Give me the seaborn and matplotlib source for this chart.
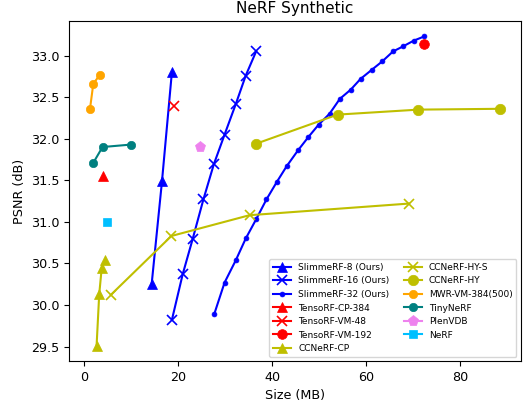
import matplotlib
matplotlib.use("Agg")
import matplotlib.pyplot as plt
import seaborn as sns

# SlimmeRF results (size in MB, PSNR in dB)
slim8_size = [14.4, 16.6, 18.7]
slim8_psnr = [30.25, 31.49, 32.80]

slim16_size = [18.7, 21.0, 23.1, 25.4, 27.6, 29.9, 32.3, 34.4, 36.6]
slim16_psnr = [29.82, 30.37, 30.79, 31.27, 31.69, 32.05, 32.42, 32.76, 33.05]

slim32_size = [27.7, 29.9, 32.3, 34.4, 36.6, 38.8, 41.0, 43.1, 45.5, 47.7, 49.9,
               52.2, 54.4, 56.7, 58.8, 61.2, 63.4, 65.7, 67.8, 70.1, 72.3]
slim32_psnr = [29.89, 30.27, 30.54, 30.80, 31.03, 31.27, 31.48, 31.67, 31.86, 32.02, 32.17,
               32.30, 32.48, 32.59, 32.72, 32.83, 32.93, 33.05, 33.11, 33.18, 33.23]

# baselines
tenso_cp_size, tenso_cp_psnr = [3.96], [31.55]
tenso_vm48_size, tenso_vm48_psnr = [19.05], [32.39]
tenso_vm192_size, tenso_vm192_psnr = [72.3], [33.14]

ccnerf_cp_size = [2.7, 3.26, 3.8, 4.5]
ccnerf_cp_psnr = [29.51, 30.13, 30.45, 30.54]

ccnerf_hys_size = [5.7, 18.6, 35.2, 69.1]
ccnerf_hys_psnr = [30.12, 30.83, 31.08, 31.22]

ccnerf_hy_size = [36.6, 53.9, 71.1, 88.5]
ccnerf_hy_psnr = [31.94, 32.29, 32.35, 32.36]

mwr_size = [1.3, 2.0, 3.4]
mwr_psnr = [32.36, 32.66, 32.77]

tiny_size = [2.0, 3.96, 10.1]
tiny_psnr = [31.71, 31.90, 31.93]

plenvdb_size, plenvdb_psnr = [24.7], [31.90]
nerf_size, nerf_psnr = [5.0], [31.0]

series = [
    (slim8_size, slim8_psnr, "SlimmeRF-8 (Ours)", "blue", "^", 6.5),
    (slim16_size, slim16_psnr, "SlimmeRF-16 (Ours)", "blue", "x", 6.5),
    (slim32_size, slim32_psnr, "SlimmeRF-32 (Ours)", "blue", ".", 7),
    (tenso_cp_size, tenso_cp_psnr, "TensoRF-CP-384", "red", "^", 6.5),
    (tenso_vm48_size, tenso_vm48_psnr, "TensoRF-VM-48", "red", "x", 6.5),
    (tenso_vm192_size, tenso_vm192_psnr, "TensoRF-VM-192", "red", "o", 7),
    (ccnerf_cp_size, ccnerf_cp_psnr, "CCNeRF-CP", "y", "^", 6.5),
    (ccnerf_hys_size, ccnerf_hys_psnr, "CCNeRF-HY-S", "y", "x", 6.5),
    (ccnerf_hy_size, ccnerf_hy_psnr, "CCNeRF-HY", "y", "o", 7.5),
    (mwr_size, mwr_psnr, "MWR-VM-384(500)", "orange", "o", 6),
    (tiny_size, tiny_psnr, "TinyNeRF", "teal", "o", 6),
    (plenvdb_size, plenvdb_psnr, "PlenVDB", "violet", "p", 8),
    (nerf_size, nerf_psnr, "NeRF", "deepskyblue", "s", 6),
]

plt.rcParams["font.size"] = 9.2

fig, ax = plt.subplots(figsize=(5.24, 4.04), dpi=100)
fig.subplots_adjust(left=0.1326, right=0.994, top=0.948, bottom=0.106)

for xs, ys, name, col, mk, ms in series:
    sns.lineplot(x=xs, y=ys, ax=ax, label=name, color=col, marker=mk,
                 markersize=ms, linewidth=1.5, markeredgecolor=col,
                 markeredgewidth=1.2 if mk == "x" else 0.5)

ax.set_title("NeRF Synthetic", fontsize=11)
ax.set_xlabel("Size (MB)")
ax.set_ylabel("PSNR (dB)")
ax.set_xticks([0, 20, 40, 60, 80])
ax.set_yticks([29.5, 30.0, 30.5, 31.0, 31.5, 32.0, 32.5, 33.0])
ax.legend(loc="lower right", ncol=2, fontsize=6.5, handlelength=2.0,
          labelspacing=0.5, columnspacing=1.6)

fig.savefig("out.png", dpi=100)
